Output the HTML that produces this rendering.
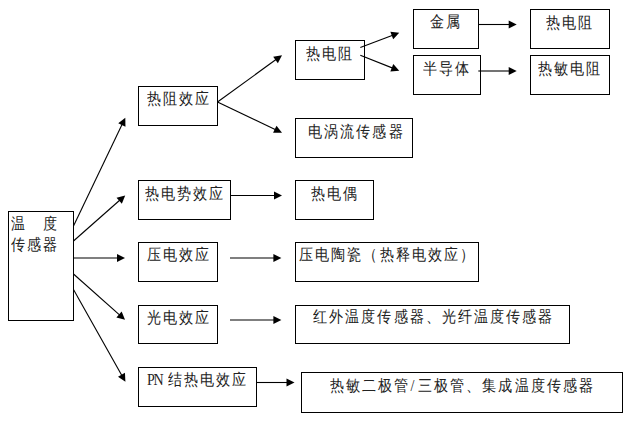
<!DOCTYPE html>
<html><head><meta charset="utf-8"><style>
html,body{margin:0;padding:0;background:#fff;width:638px;height:421px;overflow:hidden;position:relative}
.b{position:absolute;box-sizing:border-box;border:1px solid #000}
.s{display:inline-block;transform:scaleX(0.88);transform-origin:0 0;letter-spacing:2.3px}
.pn{letter-spacing:-1.5px;display:inline-block;transform:scaleX(0.875);transform-origin:0 0}
.t{position:absolute;font-family:"Liberation Serif",serif;font-size:16px;letter-spacing:0px;line-height:1;white-space:pre;color:#222}
svg{position:absolute;left:0;top:0}
</style></head><body>
<div class="b" style="left:8px;top:211px;width:66px;height:110px"></div>
<div class="b" style="left:138px;top:86px;width:80px;height:40px"></div>
<div class="b" style="left:138px;top:180px;width:93px;height:40px"></div>
<div class="b" style="left:138px;top:242px;width:80px;height:40px"></div>
<div class="b" style="left:138px;top:305px;width:80px;height:39px"></div>
<div class="b" style="left:138px;top:367px;width:119px;height:40px"></div>
<div class="b" style="left:295px;top:40px;width:70px;height:40px"></div>
<div class="b" style="left:295px;top:118px;width:118px;height:40px"></div>
<div class="b" style="left:295px;top:180px;width:79px;height:40px"></div>
<div class="b" style="left:295px;top:242px;width:184px;height:40px"></div>
<div class="b" style="left:295px;top:305px;width:275px;height:39px"></div>
<div class="b" style="left:301px;top:372px;width:322px;height:41px"></div>
<div class="b" style="left:413px;top:9px;width:66px;height:40px"></div>
<div class="b" style="left:413px;top:55px;width:68px;height:40px"></div>
<div class="b" style="left:530px;top:9px;width:80px;height:40px"></div>
<div class="b" style="left:530px;top:55px;width:80px;height:40px"></div>
<div class="t" style="left:10.5px;top:216.0px"><span class="s">温　度</span></div>
<div class="t" style="left:10.5px;top:237.0px"><span class="s">传感器</span></div>
<div class="t" style="left:146.5px;top:91.0px"><span class="s">热阻效应</span></div>
<div class="t" style="left:144.5px;top:186.0px"><span class="s">热电势效应</span></div>
<div class="t" style="left:146.5px;top:247.0px"><span class="s">压电效应</span></div>
<div class="t" style="left:146.5px;top:310.0px"><span class="s">光电效应</span></div>
<div class="t" style="left:167.5px;top:372.0px"><span class="s">结热电效应</span></div>
<div class="t" style="left:146.5px;top:372.0px"><span class="pn">PN</span></div>
<div class="t" style="left:305.5px;top:46.0px"><span class="s">热电阻</span></div>
<div class="t" style="left:307.5px;top:124.0px"><span class="s">电涡流传感器</span></div>
<div class="t" style="left:310.5px;top:186.0px"><span class="s">热电偶</span></div>
<div class="t" style="left:298.5px;top:247.0px"><span class="s">压电陶瓷（热释电效应）</span></div>
<div class="t" style="left:312.5px;top:309.0px"><span class="s">红外温度传感器、光纤温度传感器</span></div>
<div class="t" style="left:329.5px;top:378.0px"><span class="s">热敏二极管<span style="letter-spacing:4px">/</span>三极管、集成温度传感器</span></div>
<div class="t" style="left:429.5px;top:14.0px"><span class="s">金属</span></div>
<div class="t" style="left:422.5px;top:61.0px"><span class="s">半导体</span></div>
<div class="t" style="left:545.5px;top:15.0px"><span class="s">热电阻</span></div>
<div class="t" style="left:537.5px;top:61.0px"><span class="s">热敏电阻</span></div>
<svg width="638" height="421" viewBox="0 0 638 421">
<line x1="73.50" y1="226.00" x2="122.28" y2="124.11" stroke="#000" stroke-width="1.1"/>
<polygon points="125.30,117.80 125.45,126.74 118.24,123.29" fill="#000"/>
<line x1="73.50" y1="241.00" x2="119.95" y2="200.03" stroke="#000" stroke-width="1.1"/>
<polygon points="125.20,195.40 121.85,203.69 116.55,197.69" fill="#000"/>
<line x1="73.50" y1="258.00" x2="118.00" y2="258.00" stroke="#000" stroke-width="1.1"/>
<polygon points="125.00,258.00 117.00,262.00 117.00,254.00" fill="#000"/>
<line x1="73.50" y1="274.00" x2="119.76" y2="315.05" stroke="#000" stroke-width="1.1"/>
<polygon points="125.00,319.70 116.36,317.38 121.67,311.40" fill="#000"/>
<line x1="73.50" y1="289.50" x2="121.97" y2="375.70" stroke="#000" stroke-width="1.1"/>
<polygon points="125.40,381.80 117.99,376.79 124.97,372.87" fill="#000"/>
<line x1="217.50" y1="102.00" x2="276.33" y2="59.31" stroke="#000" stroke-width="1.1"/>
<polygon points="282.00,55.20 277.87,63.14 273.18,56.66" fill="#000"/>
<line x1="217.50" y1="102.00" x2="275.68" y2="129.69" stroke="#000" stroke-width="1.1"/>
<polygon points="282.00,132.70 273.06,132.87 276.50,125.65" fill="#000"/>
<line x1="230.50" y1="195.50" x2="275.00" y2="195.50" stroke="#000" stroke-width="1.1"/>
<polygon points="282.00,195.50 274.00,199.50 274.00,191.50" fill="#000"/>
<line x1="230.00" y1="258.00" x2="274.40" y2="258.00" stroke="#000" stroke-width="1.1"/>
<polygon points="281.40,258.00 273.40,262.00 273.40,254.00" fill="#000"/>
<line x1="230.00" y1="320.00" x2="274.40" y2="320.00" stroke="#000" stroke-width="1.1"/>
<polygon points="281.40,320.00 273.40,324.00 273.40,316.00" fill="#000"/>
<line x1="256.50" y1="382.50" x2="287.50" y2="382.50" stroke="#000" stroke-width="1.1"/>
<polygon points="294.50,382.50 286.50,386.50 286.50,378.50" fill="#000"/>
<line x1="360.30" y1="47.50" x2="392.71" y2="35.19" stroke="#000" stroke-width="1.1"/>
<polygon points="399.25,32.70 393.19,39.28 390.35,31.80" fill="#000"/>
<line x1="360.30" y1="55.30" x2="392.74" y2="68.13" stroke="#000" stroke-width="1.1"/>
<polygon points="399.25,70.70 390.34,71.48 393.28,64.04" fill="#000"/>
<line x1="478.50" y1="24.50" x2="509.70" y2="24.50" stroke="#000" stroke-width="1.1"/>
<polygon points="516.70,24.50 508.70,28.50 508.70,20.50" fill="#000"/>
<line x1="478.30" y1="71.00" x2="509.70" y2="71.00" stroke="#000" stroke-width="1.1"/>
<polygon points="516.70,71.00 508.70,75.00 508.70,67.00" fill="#000"/>
</svg>
</body></html>
